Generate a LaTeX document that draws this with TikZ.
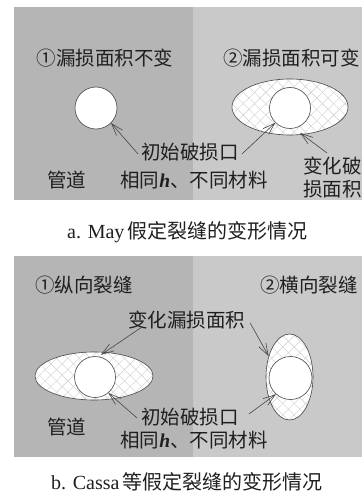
\documentclass[tikz,border=0pt]{standalone}
\usepackage{fontspec}
\setmainfont{Liberation Serif}
\newfontfamily\cjk{Noto Sans CJK SC}
\usetikzlibrary{arrows.meta,patterns.meta,shapes.geometric}
\definecolor{bgL}{RGB}{181,181,181}
\definecolor{bgR}{RGB}{201,201,201}
\definecolor{ink}{RGB}{70,70,70}
\definecolor{hatch}{RGB}{205,205,205}
\newcommand{\hh}{{\rmfamily\bfseries\itshape h}}
\tikzset{
  txt/.style={font=\cjk\fontsize{19.5}{23}\selectfont, text=black!88, inner sep=0pt},
  captxt/.style={font=\fontsize{20}{24}\selectfont, text=black!88, inner sep=0pt},
  hole/.style={circle, draw=ink, line width=0.6pt, fill=white, inner sep=0pt, minimum size=#1},
  crack/.style args={#1/#2}{ellipse, draw=ink, line width=0.6pt, inner sep=0pt,
    minimum width=#1, minimum height=#2,
    preaction={fill=white},
    preaction={pattern={Lines[angle=45,distance=8pt,line width=0.4pt]}, pattern color=hatch},
    preaction={pattern={Lines[angle=-45,distance=8pt,line width=0.4pt]}, pattern color=hatch}},
  arr/.style={draw=ink, line width=0.6pt, -{Straight Barb[length=12pt,width=8pt,line width=0.6pt]}},
}
\begin{document}
\begin{tikzpicture}[x=1pt,y=-1pt]
\useasboundingbox (0,0) rectangle (362,494);
% panel backgrounds
\fill[bgL] (14,7) rectangle (193,200);
\fill[bgR] (193,7) rectangle (362,200);
\fill[bgL] (14,256) rectangle (193,457);
\fill[bgR] (193,256) rectangle (362,457);

% ---------- panel a ----------
\node[txt] (a1) at (105,58) {①漏损面积不变};
\node[txt, anchor=west] (a2) at (223,58) {②漏损面积可变};
\node[hole=42pt] (ca) at (96,108) {};
\node[crack=116pt/56pt] (ea) at (290,107) {};
\node[hole=41pt] (cb) at (290,108) {};
\node[txt] (ta) at (190,152) {初始破损口};
\node[txt] (pa) at (66.5,180) {管道};
\node[txt] (ma) at (194,180) {相同\hh、不同材料};
\node[txt, anchor=north west, align=left] (va) at (303,157) {变化破\\[0pt]损面积};
\coordinate (va0) at (327,153);
\draw[arr] ([xshift=-3pt,yshift=-2pt]ta.west) -- (ca.-45);
\draw[arr] ([xshift=3pt,yshift=-2pt]ta.east) -- (cb.-135);
\draw[arr] (va0) -- ([yshift=2pt]ea.-70);
\node[captxt] (capa) at (187.5,232) {a. May\,{\cjk 假定裂缝的变形情况}};

% ---------- panel b ----------
\node[txt] (b1) at (84,285) {①纵向裂缝};
\node[txt] (b2) at (309,285) {②横向裂缝};
\node[txt] (tb) at (186.5,320) {变化漏损面积};
\node[crack=118pt/48pt] (ec) at (94,376) {};
\node[hole=41pt] (cc) at (95,377) {};
\node[crack=47pt/86pt] (ed) at (289.5,377) {};
\node[hole=43pt] (cd) at (290.5,378) {};
\node[txt] (tc) at (190,417) {初始破损口};
\node[txt] (pb) at (66.5,427) {管道};
\node[txt] (mb) at (194,440) {相同\hh、不同材料};
\draw[arr] ([xshift=-45pt,yshift=2pt]tb.south) -- ([yshift=-3pt]ec.74);
\draw[arr] ([xshift=5pt,yshift=-3pt]tb.east) -- (ed.135);
\draw[arr] ([xshift=-4pt,yshift=-1pt]tc.west) -- (cc.-50);
\draw[arr] ([xshift=10pt,yshift=3pt]tc.east) -- (cd.-132);
\node[captxt] (capb) at (187,482) {b. Cassa\,{\cjk 等假定裂缝的变形情况}};
\end{tikzpicture}
\end{document}
